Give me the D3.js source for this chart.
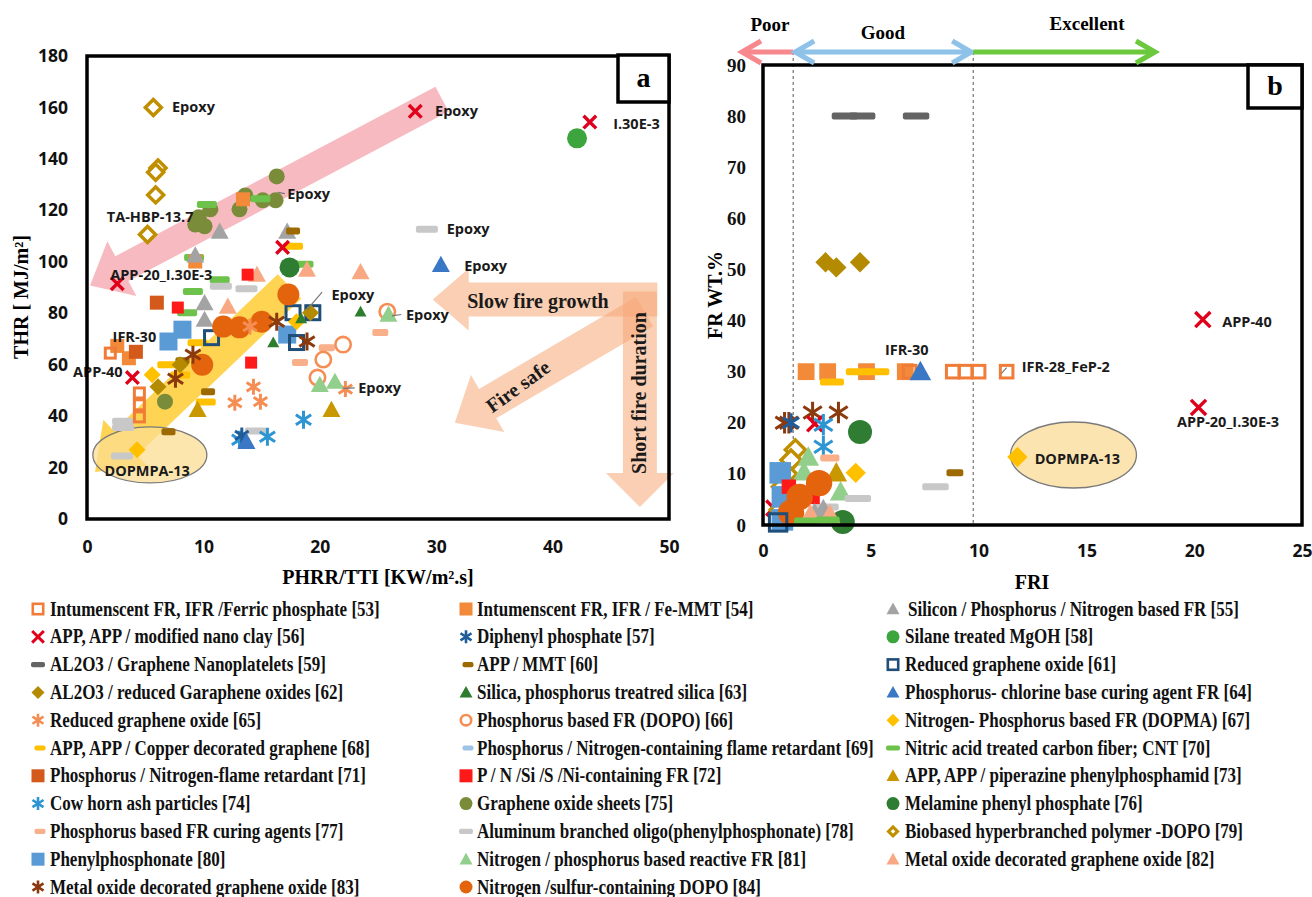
<!DOCTYPE html>
<html><head><meta charset="utf-8">
<script src="https://cdn.jsdelivr.net/npm/d3@7"></script>
<style>
body{margin:0;background:#fff;}
svg{display:block;}
</style></head><body>
<svg id="chart" width="1312" height="897"></svg>
<script>
// ---- flame-retardant families (reference number and legend text) ----
const seriesRefs = [53,56,59,62,65,68,71,74,77,80,83,
                    54,57,60,63,66,69,72,75,78,81,84,
                    55,58,61,64,67,70,73,76,79,82];
const seriesNames = [
  "Intumenscent FR, IFR /Ferric phosphate [53]",
  "APP, APP / modified nano clay [56]",
  "AL2O3 / Graphene Nanoplatelets [59]",
  "AL2O3 / reduced Garaphene oxides [62]",
  "Reduced graphene oxide [65]",
  "APP, APP / Copper decorated graphene [68]",
  "Phosphorus / Nitrogen-flame retardant [71]",
  "Cow horn ash particles [74]",
  "Phosphorus based FR curing agents [77]",
  "Phenylphosphonate [80]",
  "Metal oxide decorated graphene oxide [83]",
  "Intumenscent FR, IFR / Fe-MMT [54]",
  "Diphenyl phosphate [57]",
  "APP / MMT [60]",
  "Silica, phosphorus treatred silica [63]",
  "Phosphorus based FR (DOPO) [66]",
  "Phosphorus / Nitrogen-containing flame retardant [69]",
  "P / N /Si /S /Ni-containing FR [72]",
  "Graphene oxide sheets [75]",
  "Aluminum branched oligo(phenylphosphonate) [78]",
  "Nitrogen / phosphorus based reactive FR [81]",
  "Nitrogen /sulfur-containing DOPO [84]",
  "Silicon / Phosphorus / Nitrogen based FR [55]",
  "Silane treated MgOH [58]",
  "Reduced graphene oxide [61]",
  "Phosphorus- chlorine base curing agent FR [64]",
  "Nitrogen- Phosphorus based FR (DOPMA) [67]",
  "Nitric acid treated carbon fiber; CNT [70]",
  "APP, APP / piperazine phenylphosphamid [73]",
  "Melamine phenyl phosphate [76]",
  "Biobased hyperbranched polymer -DOPO [79]",
  "Metal oxide decorated graphene oxide [82]"
];

// ---- panel a: [ref, PHRR/TTI (kW/m².s), THR (MJ/m²)] ----
const thrVsPhrrTti = [
  [79,5.7,160],[79,6.1,136.5],[79,5.9,134.8],[79,5.9,126],[79,5.2,110.6],
  [75,9.6,117.3],[75,10.1,113.8],[75,10.6,120.4],[75,9.3,114.5],[75,13.1,120.4],[75,13.6,125.8],
  [75,15.1,123.9],[75,16.2,123.9],[75,16.3,133.2],[75,6.7,45.6],
  [70,10.3,122.3],[70,9.2,101.7],[70,11.4,93],[70,9.1,88.4],[70,18.6,99],[70,8.6,80.2],[70,14.9,124.5],
  [54,9.3,100.1],[54,13.4,124.3],[54,2.6,67.3],[54,3.6,62.5],
  [55,11.4,111.8],[55,17.2,111.8],[55,9.3,102.5],[55,10.1,84],[55,10.1,77.5],
  [60,17.7,112],[60,10.4,49.5],[60,7.0,33.9],[60,8.2,61.5],
  [68,17.7,106],[68,6.9,60],[68,9.5,68.5],[68,10.2,45.5],[68,8.0,56],
  [82,18.9,97],[82,14.6,95],[82,23.5,96],[82,12.1,82.6],
  [72,13.8,95],[72,7.8,82.2],[72,14.1,60.8],
  [78,13.7,89.5],[78,29.2,112.6],[78,3.1,38],[78,3.1,35.6],[78,3.0,24.5],[78,14.5,34.2],[78,11.5,90.5],
  [71,6.0,84.1],[71,4.2,65],
  [80,7.0,69],[80,8.2,73.6],[80,17.2,71.7],
  [61,17.7,80.2],[61,19.4,80.2],[61,18.0,68.6],[61,10.7,70.5],
  [84,11.7,74.8],[84,15.0,76.7],[84,17.3,87.3],[84,9.9,60],[84,13.1,74.5],
  [65,14.0,74.8],[65,12.7,45.2],[65,14.9,45.6],[65,14.3,51.4],[65,22.2,50.5],
  [83,18.9,69],[83,16.3,76.7],[83,9.1,63.9],[83,7.6,54.5],
  [62,8.0,60],[62,6.1,51.4],[62,19.2,80.2],
  [67,5.6,56.1],[67,4.3,26.9],[67,18.0,76.7],
  [53,4.5,49],[53,4.5,44.4],[53,4.5,39.7],[53,2.0,64.5],
  [63,16.0,68.6],[63,23.5,80.6],[63,18.4,78],
  [77,25.2,72.5],[77,18.3,60.8],[77,20.6,66.6],
  [66,22.0,67.8],[66,20.3,62],[66,19.8,55],[66,25.8,80.6],
  [81,20.0,52.2],[81,21.3,53.4],[81,25.9,79.5],
  [73,9.5,42.5],[73,21.0,42.5],
  [74,13.1,30.8],[74,15.5,32],[74,18.6,38.6],
  [57,13.3,32.5],
  [64,13.7,30],[64,30.4,98.8],
  [76,17.4,97.8],
  [58,42.1,148],
  [56,28.2,158.5],[56,43.2,154.3],[56,16.8,105.6],[56,2.6,91.5],[56,3.9,55]
];

// ---- panel b: [ref, FRI, FR wt.%] ----
const frWtVsFri = [
  [59,3.8,80],[59,4.6,80],[59,7.1,80],
  [62,2.9,51.4],[62,3.4,50.4],[62,4.5,51.4],
  [54,2.0,30],[54,3.0,30],[54,4.8,30],[54,6.6,30],
  [68,3.2,28],[68,4.4,30],[68,5.3,30],
  [53,6.8,30],[53,8.8,30],[53,9.4,30],[53,10.0,30],[53,11.3,30],
  [64,7.3,30],
  [83,1.0,20],[83,1.2,20],[83,2.3,22],[83,3.5,22],
  [56,2.4,19.8],[56,0.5,3.3],[56,20.4,40.2],[56,20.2,23],
  [74,2.8,19.6],[74,2.8,15.3],[57,1.3,20],
  [76,4.5,18.2],[76,3.7,0.6],
  [79,1.5,14.7],[79,1.3,12.7],[79,1.1,10],[79,0.9,7.5],[79,0.8,3],
  [81,2.1,13.3],[81,1.9,10.4],[81,3.6,6.5],
  [80,0.8,10.2],[80,0.9,5.5],[80,0.9,1.0],
  [77,3.1,13.1],
  [73,3.4,10.2],
  [67,4.3,10.2],[67,11.8,13.3],
  [78,4.4,5.2],[78,8.0,7.5],[78,2.9,3.5],
  [60,8.9,10.2],
  [72,2.3,5.5],[72,1.2,7.5],
  [55,2.8,3.0],[55,2.4,2.2],
  [84,2.6,8.2],[84,1.7,5.5],[84,1.3,2.4],
  [82,2.2,2.0],[82,3.1,2.0],
  [70,3.0,1.0],[70,2.0,0.8],
  [61,0.7,0.5]
];

// ---- axes ----
const ticksPhrrTti = [0,10,20,30,40,50];
const ticksThr = [0,20,40,60,80,100,120,140,160,180];
const ticksFri = [0,5,10,15,20,25];
const ticksFrWt = [0,10,20,30,40,50,60,70,80,90];
const friLimits = [1.4, 9.75];   // poor | good | excellent

// ---- point labels: [text, x, y] in data units (left edge, middle) ----
const labelsA = [
  ["Epoxy",7.3,160.1],["Epoxy",17.2,126.2],["TA-HBP-13.7",1.7,117.3],["APP-20_I.30E-3",2.0,95],
  ["Epoxy",29.9,158.5],["I.30E-3",45.2,153.5],["Epoxy",30.9,112.6],["Epoxy",32.4,98.2],
  ["Epoxy",21.0,87.3],["Epoxy",27.4,79.5],["Epoxy",23.3,51],["IFR-30",2.2,70.9],
  ["APP-40",-1.2,57.3],["DOPMPA-13",1.5,18.7]
];
const labelsB = [
  ["IFR-30",5.66,34.3],["IFR-28_FeP-2",12.0,31],["APP-40",21.3,39.8],
  ["APP-20_I.30E-3",19.2,20.2],["DOPMPA-13",12.6,12.9]
];

// marker look of each family
const markerStyle = {
  53:{shape:"hsq",color:"#F07C38",size:13},
  54:{shape:"sq",color:"#F28A3A",size:14},
  55:{shape:"tri",color:"#A3A3A3",size:18},
  56:{shape:"x",color:"#E0001B",size:14},
  57:{shape:"ast",color:"#1F5C99",size:16},
  58:{shape:"circ",color:"#3DA53D",size:20},
  59:{shape:"dash",color:"#646464",size:22},
  60:{shape:"dash",color:"#9C6A00",size:14},
  61:{shape:"hsq",color:"#1F4E79",size:17},
  62:{shape:"dia",color:"#B38A00",size:17},
  63:{shape:"tri",color:"#2E7D2E",size:12},
  64:{shape:"tri",color:"#3A77C4",size:18},
  65:{shape:"ast",color:"#F58E55",size:16},
  66:{shape:"hcirc",color:"#F58E55",size:18},
  67:{shape:"dia",color:"#FFC000",size:17},
  68:{shape:"dash",color:"#FFC000",size:20},
  69:{shape:"dash",color:"#9DC3E6",size:18},
  70:{shape:"dash",color:"#6CC24A",size:20},
  71:{shape:"sq",color:"#D35A1A",size:14},
  72:{shape:"sq",color:"#FF1A1A",size:12},
  73:{shape:"tri",color:"#C99700",size:18},
  74:{shape:"ast",color:"#2E95D3",size:18},
  75:{shape:"circ",color:"#7A8C3A",size:16},
  76:{shape:"circ",color:"#2E7D32",size:20},
  77:{shape:"dash",color:"#F8AF8A",size:16},
  78:{shape:"dash",color:"#C8C8C8",size:22},
  79:{shape:"hdia",color:"#C08F00",size:20},
  80:{shape:"sq",color:"#5B9BD5",size:18},
  81:{shape:"tri",color:"#93CF8C",size:18},
  82:{shape:"tri",color:"#F8A882",size:18},
  83:{shape:"ast",color:"#8B3A0E",size:18},
  84:{shape:"circ",color:"#E4640E",size:22}
};

const svg = d3.select("#chart");
const serif = "'Liberation Serif','Times New Roman',serif";
const sans = "'Open Sans','Liberation Sans',sans-serif";

const xA = d3.scaleLinear().domain([0,50]).range([87,669]);
const yA = d3.scaleLinear().domain([0,180]).range([519,56]);
const xB = d3.scaleLinear().domain([0,25]).range([763,1302]);
const yB = d3.scaleLinear().domain([0,90]).range([525,65]);

// s: overall marker size in px (null = family default scaled by k)
function drawMarker(g, ref, cx, cy, k, fixed) {
  const st = markerStyle[ref];
  const s = fixed || st.size * (k || 1), c = st.color, h = s / 2;
  const sw = fixed ? 2.6 : 3;
  switch (st.shape) {
    case "sq":
      g.append("rect").attr("x",cx-h).attr("y",cy-h).attr("width",s).attr("height",s).attr("fill",c); break;
    case "hsq":
      g.append("rect").attr("x",cx-h+sw/2).attr("y",cy-h+sw/2).attr("width",s-sw).attr("height",s-sw)
        .attr("fill","none").attr("stroke",c).attr("stroke-width",sw); break;
    case "circ":
      g.append("circle").attr("cx",cx).attr("cy",cy).attr("r",h).attr("fill",c); break;
    case "hcirc":
      g.append("circle").attr("cx",cx).attr("cy",cy).attr("r",h-1.3)
        .attr("fill","none").attr("stroke",c).attr("stroke-width",2.6); break;
    case "tri":
      g.append("path").attr("d",`M${cx},${cy-h}L${cx+h},${cy+h*0.8}L${cx-h},${cy+h*0.8}Z`).attr("fill",c); break;
    case "dia":
      g.append("path").attr("d",`M${cx},${cy-h}L${cx+h},${cy}L${cx},${cy+h}L${cx-h},${cy}Z`).attr("fill",c); break;
    case "hdia": {
      const r = h - 2;
      g.append("path").attr("d",`M${cx},${cy-r}L${cx+r},${cy}L${cx},${cy+r}L${cx-r},${cy}Z`)
        .attr("fill","#fff").attr("stroke",c).attr("stroke-width",sw+0.5); break;
    }
    case "dash": {
      const hh = fixed ? 2.6 : 3.5;
      g.append("rect").attr("x",cx-h).attr("y",cy-hh).attr("width",s).attr("height",hh*2)
        .attr("rx",2).attr("fill",c); break;
    }
    case "x": {
      const r = h * 0.9;
      g.append("path").attr("d",`M${cx-r},${cy-r}L${cx+r},${cy+r}M${cx-r},${cy+r}L${cx+r},${cy-r}`)
        .attr("stroke",c).attr("stroke-width",sw+0.4).attr("fill","none"); break;
    }
    case "ast": {
      const r = h, dx = r * 0.85, dy = r * 0.55;
      g.append("path").attr("d",`M${cx},${cy-r}L${cx},${cy+r}M${cx-dx},${cy-dy}L${cx+dx},${cy+dy}M${cx-dx},${cy+dy}L${cx+dx},${cy-dy}`)
        .attr("stroke",c).attr("stroke-width",sw).attr("fill","none"); break;
    }
  }
}

function blockArrow(g, x1, y1, x2, y2, w, hw, hl, fill, op) {
  const dx = x2-x1, dy = y2-y1, L = Math.hypot(dx,dy), ux = dx/L, uy = dy/L, px = -uy, py = ux;
  const bx = x2-ux*hl, by = y2-uy*hl;
  const pts = [[x1+px*w,y1+py*w],[bx+px*w,by+py*w],[bx+px*hw,by+py*hw],[x2,y2],
               [bx-px*hw,by-py*hw],[bx-px*w,by-py*w],[x1-px*w,y1-py*w]];
  g.append("path").attr("d","M"+pts.map(p=>p.join(",")).join("L")+"Z")
    .attr("fill",fill).attr("opacity",op);
}

function axes(g, x, y, xt, yt, yFont, yPad, xPad) {
  const ax = g.append("g").attr("transform",`translate(0,${y.range()[0]})`)
    .call(d3.axisBottom(x).tickValues(xt).tickSize(0).tickPadding(xPad));
  ax.select(".domain").remove();
  ax.selectAll("text").attr("font-family",sans).attr("font-weight",700).attr("font-size",17.5).attr("fill","#111");
  const ay = g.append("g").attr("transform",`translate(${x.range()[0]},0)`)
    .call(d3.axisLeft(y).tickValues(yt).tickSize(0).tickPadding(yPad));
  ay.select(".domain").remove();
  ay.selectAll("text").attr("font-family",yFont.family).attr("font-weight",700)
    .attr("font-size",yFont.size).attr("fill","#111");
}

function frame(g, x, y) {
  g.append("rect").attr("x",x.range()[0]).attr("y",y.range()[1])
    .attr("width",x.range()[1]-x.range()[0]).attr("height",y.range()[0]-y.range()[1])
    .attr("fill","none").attr("stroke","#000").attr("stroke-width",3.5);
}

function panelTag(g, x0, y0, w, h, txt) {
  g.append("rect").attr("x",x0).attr("y",y0).attr("width",w).attr("height",h)
    .attr("fill","#fff").attr("stroke","#000").attr("stroke-width",3.5);
  g.append("text").attr("x",x0+w/2).attr("y",y0+h/2+8).attr("text-anchor","middle")
    .attr("font-family",serif).attr("font-weight",700).attr("font-size",28).text(txt);
}

function ptLabels(g, x, y, list) {
  g.selectAll(null).data(list).enter().append("text")
    .attr("x",d=>x(d[1])).attr("y",d=>y(d[2])).attr("dy","0.35em")
    .attr("font-family",sans).attr("font-weight",700).attr("font-size",14.5)
    .attr("fill","#1a1a1a").text(d=>d[0]);
}

// ================= panel a =================
const gA = svg.append("g");

// trend arrows behind the markers
blockArrow(gA, xA(30.5), yA(163.2), xA(0.26), yA(90.8), 14, 31, 36, "#F28C96", 0.6);
blockArrow(gA, xA(17.4), yA(90.4), xA(0.69), yA(18.3), 17, 32, 42, "#FFBF00", 0.68);
blockArrow(gA, xA(49.0), yA(85.3), xA(29.7), yA(85.3), 17, 31, 36, "#F6A877", 0.55);
blockArrow(gA, xA(47.5), yA(88.4), xA(47.5), yA(4.7), 17, 34, 34, "#F6A877", 0.55);
blockArrow(gA, xA(47.9), yA(80.6), xA(31.6), yA(37.4), 17, 33, 38, "#F6A877", 0.55);

gA.append("ellipse").attr("cx",xA(5.4)).attr("cy",yA(24.9)).attr("rx",57).attr("ry",28)
  .attr("fill","#FCDD92").attr("fill-opacity",0.75).attr("stroke","#7a7a7a").attr("stroke-width",1.3);

const mA = gA.append("g");
thrVsPhrrTti.forEach(d => drawMarker(mA, d[0], xA(d[1]), yA(d[2])));

// leader lines to the epoxy labels
const leadA = [[[20.2,88.2],[18.9,81.4]],[[27.0,79.5],[26.2,79.0]],[[23.0,51],[22.0,50.8]],[[16.4,127],[17.0,126.5]]];
leadA.forEach(l => gA.append("line").attr("x1",xA(l[0][0])).attr("y1",yA(l[0][1]))
  .attr("x2",xA(l[1][0])).attr("y2",yA(l[1][1])).attr("stroke","#777").attr("stroke-width",1.2));

ptLabels(gA, xA, yA, labelsA);

gA.append("text").attr("x",538).attr("y",308).attr("text-anchor","middle")
  .attr("font-family",serif).attr("font-weight",700).attr("font-size",20).attr("fill","#1a1a1a").text("Slow fire growth");
gA.append("text").attr("transform","translate(646,393) rotate(-90)").attr("text-anchor","middle")
  .attr("font-family",serif).attr("font-weight",700).attr("font-size",20).attr("fill","#1a1a1a").text("Short fire duration");
gA.append("text").attr("transform","translate(522,392) rotate(-36)").attr("text-anchor","middle")
  .attr("font-family",serif).attr("font-weight",700).attr("font-size",20).attr("fill","#1a1a1a").text("Fire safe");

frame(gA, xA, yA);
axes(gA, xA, yA, ticksPhrrTti, ticksThr, {family:sans,size:17.5}, 19, 22);
panelTag(gA, 618, 55, 51, 47, "a");

gA.append("text").attr("x",378).attr("y",584).attr("text-anchor","middle")
  .attr("font-family",serif).attr("font-weight",700).attr("font-size",20).text("PHRR/TTI [KW/m².s]");
gA.append("text").attr("transform","translate(28,297) rotate(-90)").attr("text-anchor","middle")
  .attr("font-family",serif).attr("font-weight",700).attr("font-size",20).text("THR [ MJ/m²]");

// ================= panel b =================
const gB = svg.append("g");

friLimits.forEach(v => gB.append("line").attr("x1",xB(v)).attr("x2",xB(v)).attr("y1",52).attr("y2",yB(0))
  .attr("stroke","#555").attr("stroke-width",1).attr("stroke-dasharray","3,3"));

gB.append("ellipse").attr("cx",xB(14.4)).attr("cy",yB(13.7)).attr("rx",63).attr("ry",33)
  .attr("fill","#FCE4B0").attr("stroke","#7a7a7a").attr("stroke-width",1.3);

const mB = gB.append("g");
frWtVsFri.forEach(d => drawMarker(mB, d[0], xB(d[1]), yB(d[2]), 1.2));

gB.append("line").attr("x1",xB(11.05)).attr("y1",yB(29.6)).attr("x2",xB(11.3)).attr("y2",yB(30.8))
  .attr("stroke","#777").attr("stroke-width",1.2);

ptLabels(gB, xB, yB, labelsB);

frame(gB, xB, yB);
axes(gB, xB, yB, ticksFri, ticksFrWt, {family:serif,size:19}, 17, 20);
panelTag(gB, 1248, 65, 54, 43, "b");

// rating bands above the plot
const ay = 52;
function chevron(x, dir, color) {
  gB.append("path").attr("d",`M${x-dir*19},${ay-11}L${x},${ay}L${x-dir*19},${ay+11}`)
    .attr("fill","none").attr("stroke",color).attr("stroke-width",5);
}
gB.append("line").attr("x1",xB(friLimits[0])).attr("x2",742).attr("y1",ay).attr("y2",ay).attr("stroke","#F7888E").attr("stroke-width",5);
chevron(742,-1,"#F7888E");
gB.append("line").attr("x1",xB(friLimits[0])+2).attr("x2",xB(friLimits[1])-2).attr("y1",ay).attr("y2",ay).attr("stroke","#8EC2E8").attr("stroke-width",5);
chevron(xB(friLimits[0])+2,-1,"#8EC2E8");
chevron(xB(friLimits[1])-2,1,"#8EC2E8");
gB.append("line").attr("x1",xB(friLimits[1])).attr("x2",1155).attr("y1",ay).attr("y2",ay).attr("stroke","#6CC93E").attr("stroke-width",5);
chevron(1155,1,"#6CC93E");
[["Poor",770,31],["Good",883,39],["Excellent",1087,30]].forEach(t =>
  gB.append("text").attr("x",t[1]).attr("y",t[2]).attr("text-anchor","middle")
    .attr("font-family",serif).attr("font-weight",700).attr("font-size",19).text(t[0]));

gB.append("text").attr("x",1032).attr("y",589).attr("text-anchor","middle")
  .attr("font-family",serif).attr("font-weight",700).attr("font-size",20).text("FRI");
gB.append("text").attr("transform","translate(722,295) rotate(-90)").attr("text-anchor","middle")
  .attr("font-family",serif).attr("font-weight",700).attr("font-size",20).text("FR WT.%");

// ================= legend =================
const gL = svg.append("g");
const colMarkX = [38, 466, 893], colTextX = [50, 477, 905];
const texts = [];
seriesRefs.forEach((ref, i) => {
  const col = i < 11 ? 0 : (i < 22 ? 1 : 2);
  const row = i < 11 ? i : (i < 22 ? i - 11 : i - 22);
  const yy = 609 + row * 27.8;
  const shp = markerStyle[ref].shape;
  const lsz = shp === "dash" ? (ref === 60 || ref === 68 || ref === 77 || ref === 69 ? 11 : 14) : 13;
  const mx = shp === "dash" && lsz === 11 ? colMarkX[col] + 2 : colMarkX[col];
  drawMarker(gL, ref, mx, yy, 1, lsz);
  const t = gL.append("text").attr("font-family",serif).attr("font-weight",700).attr("font-size",20.5)
    .attr("fill","#111").text(seriesNames[i]);
  texts.push({t, x: colTextX[col] + (col === 2 && row === 0 ? 3 : 0), y: yy + 6.5});
});
// the legend type is set narrow; squeeze all entries by the same factor
const refW = texts[0].t.node().getComputedTextLength();
const squeeze = 330 / refW;
texts.forEach(o => o.t.attr("transform",`translate(${o.x},${o.y}) scale(${squeeze},1)`));
</script>
</body></html>
